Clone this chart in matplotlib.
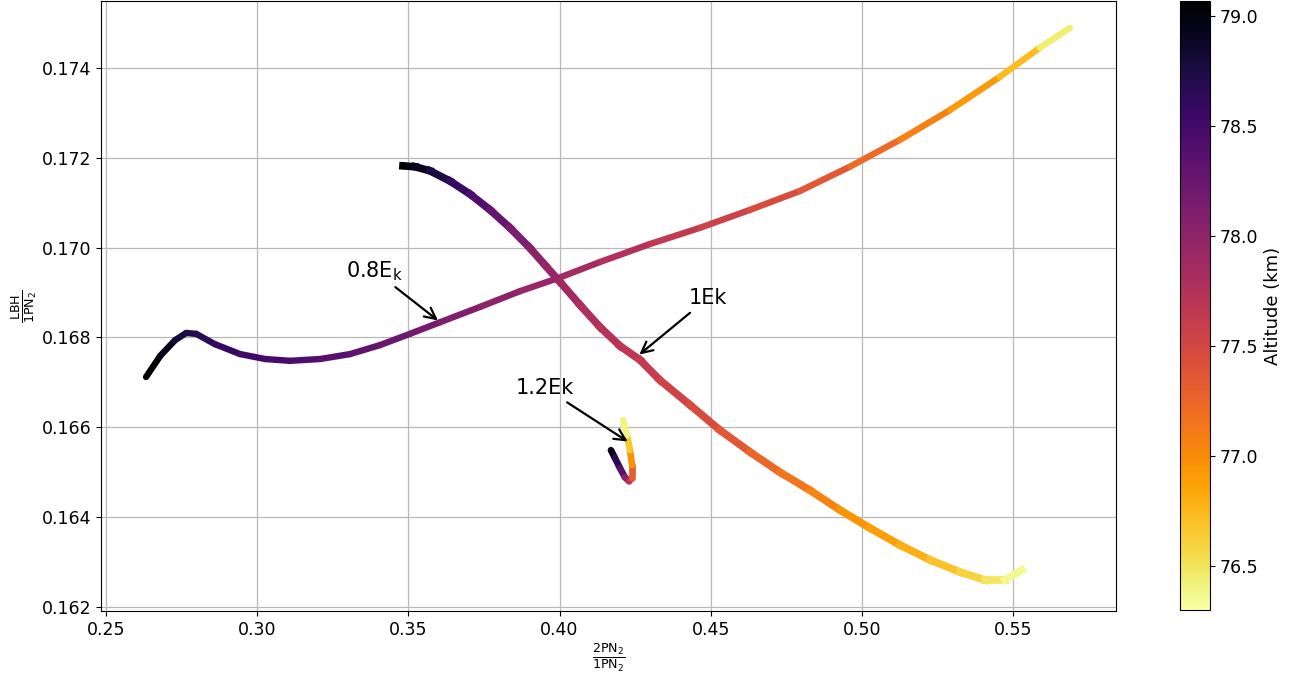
import numpy as np
import matplotlib
matplotlib.use("Agg")
import matplotlib.pyplot as plt
from matplotlib.collections import LineCollection
from matplotlib.colors import Normalize

# 0.8 Ek curve
x08 = [0.2632, 0.2679, 0.2728, 0.2765, 0.2798, 0.2860, 0.2943, 0.3026, 0.3108, 0.3208,
       0.3307, 0.3406, 0.3505, 0.3605, 0.3737, 0.3869, 0.3995, 0.4134, 0.4299, 0.4464,
       0.4630, 0.4795, 0.4960, 0.5126, 0.5291, 0.5456, 0.5589, 0.5688]
y08 = [0.16712, 0.16759, 0.16794, 0.16810, 0.16808, 0.16785, 0.16763, 0.16752, 0.16748, 0.16752,
       0.16763, 0.16783, 0.16808, 0.16834, 0.16868, 0.16903, 0.16932, 0.16968, 0.17008, 0.17044,
       0.17084, 0.17126, 0.17180, 0.17240, 0.17306, 0.17380, 0.17445, 0.17489]
alt08 = [79.1, 79.0, 78.85, 78.75, 78.7, 78.62, 78.55, 78.5, 78.45, 78.4,
         78.35, 78.28, 78.2, 78.13, 78.05, 77.97, 77.9, 77.8, 77.7, 77.6,
         77.5, 77.4, 77.3, 77.15, 77.0, 76.85, 76.6, 76.3]

# 1 Ek curve
x10 = [0.3482, 0.3522, 0.3571, 0.3638, 0.3704, 0.3770, 0.3836, 0.3902, 0.3952, 0.4001,
       0.4068, 0.4134, 0.4200, 0.4266, 0.4332, 0.4431, 0.4530, 0.4630, 0.4729, 0.4828,
       0.4927, 0.5026, 0.5126, 0.5225, 0.5324, 0.5407, 0.5473, 0.5529]
y10 = [0.17182, 0.17180, 0.17171, 0.17148, 0.17119, 0.17084, 0.17044, 0.16999, 0.16961, 0.16924,
       0.16872, 0.16823, 0.16781, 0.16750, 0.16705, 0.16650, 0.16594, 0.16545, 0.16500, 0.16460,
       0.16416, 0.16376, 0.16338, 0.16305, 0.16278, 0.16260, 0.16260, 0.16282]
alt10 = [79.1, 79.0, 78.85, 78.65, 78.5, 78.35, 78.2, 78.05, 77.97, 77.9,
         77.82, 77.75, 77.7, 77.65, 77.58, 77.5, 77.4, 77.3, 77.2, 77.1,
         77.0, 76.92, 76.85, 76.75, 76.65, 76.55, 76.45, 76.3]

# 1.2 Ek curve
x12 = [0.4170, 0.4183, 0.4200, 0.4216, 0.4230, 0.4240, 0.4240, 0.4233, 0.4223, 0.4210]
y12 = [0.16549, 0.16532, 0.16509, 0.16489, 0.16480, 0.16487, 0.16516, 0.16549, 0.16583, 0.16616]
alt12 = [79.1, 78.8, 78.5, 78.2, 77.9, 77.5, 77.1, 76.8, 76.5, 76.3]

cmap = plt.get_cmap("inferno_r")
norm = Normalize(vmin=76.30, vmax=79.07)

fig = plt.figure(figsize=(13.05, 6.75), dpi=100)
ax = fig.add_axes([0.0774, 0.0948, 0.7778, 0.9037])
cax = fig.add_axes([0.9042, 0.0963, 0.023, 0.9022])


def colored_line(ax, x, y, alt, lw, cap):
    pts = np.column_stack([x, y]).reshape(-1, 1, 2)
    segs = np.concatenate([pts[:-1], pts[1:]], axis=1)
    a = np.asarray(alt)
    lc = LineCollection(segs, cmap=cmap, norm=norm, linewidths=lw, capstyle=cap, zorder=3)
    lc.set_array((a[:-1] + a[1:]) / 2)
    ax.add_collection(lc)
    return lc


colored_line(ax, x08, y08, alt08, 4.6, "round")
lc = colored_line(ax, x10, y10, alt10, 5.5, "projecting")
colored_line(ax, x12, y12, alt12, 4.8, "round")

ax.set_xlim(0.2483, 0.5841)
ax.set_ylim(0.16191, 0.17549)
ax.set_xticks([0.25, 0.30, 0.35, 0.40, 0.45, 0.50, 0.55])
ax.set_yticks([0.162, 0.164, 0.166, 0.168, 0.170, 0.172, 0.174])
ax.tick_params(labelsize=12.5)
ax.grid(True, color="#b8b8b8", lw=0.9, zorder=0)
ax.set_axisbelow(True)

ax.set_xlabel(r"$\frac{\mathrm{2PN_2}}{\mathrm{1PN_2}}$", fontsize=13, labelpad=2)
ax.set_ylabel(r"$\frac{\mathrm{LBH}}{\mathrm{1PN_2}}$", fontsize=13, labelpad=2)

arrow = dict(arrowstyle="->", color="black", lw=1.6, mutation_scale=20)
ax.annotate(r"0.8E$_\mathrm{k}$", xy=(0.3605, 0.16834), xytext=(0.3388, 0.16922),
            fontsize=15, ha="center", va="bottom", arrowprops=arrow)
ax.annotate("1Ek", xy=(0.4257, 0.16758), xytext=(0.4490, 0.16865),
            fontsize=15, ha="center", va="bottom", arrowprops=arrow)
ax.annotate("1.2Ek", xy=(0.4233, 0.16565), xytext=(0.3952, 0.16665),
            fontsize=15, ha="center", va="bottom", arrowprops=arrow)

cb = fig.colorbar(lc, cax=cax)
cb.set_ticks([76.5, 77.0, 77.5, 78.0, 78.5, 79.0])
cb.ax.tick_params(labelsize=12.5)
cb.set_label("Altitude (km)", fontsize=13)

fig.savefig("out.png", dpi=100)
